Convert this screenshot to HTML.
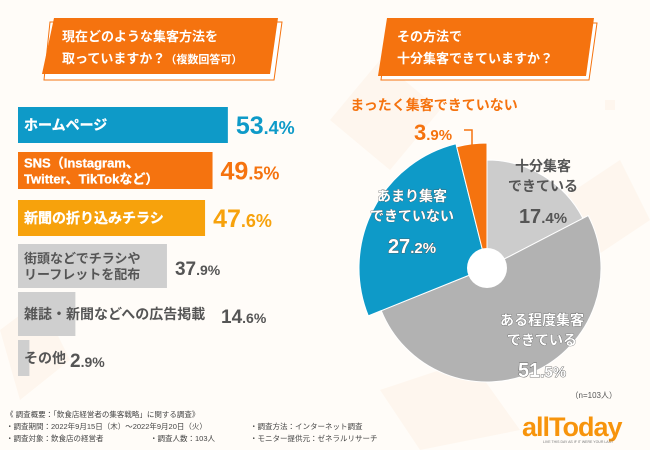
<!DOCTYPE html>
<html><head><meta charset="utf-8"><style>
body{margin:0;width:650px;height:450px;overflow:hidden;background:#fffcf8;font-family:"Liberation Sans","Noto Sans CJK JP",sans-serif}
svg{display:block}
</style></head><body>
<svg width="650" height="450">
<g fill="#fdf0e3" opacity="0.45">
<polygon points="330,120 380,60 440,110 390,170"/><polygon points="560,200 620,160 650,220 590,260"/><polygon points="380,390 470,360 520,430 420,450"/><rect x="605" y="100" width="10" height="10"/><polygon points="0,330 40,300 70,360 20,400"/>
</g>
<g>
<polygon points="50,22 282,22 274,80 44,80" fill="#fff" stroke="#f5730f" stroke-width="1"/>
<polygon points="54,18 278,18 270,74 42,74" fill="#f5730f"/>
<text x="62" y="41" font-size="13" font-weight="bold" fill="#fff">現在どのような集客方法を</text>
<text x="62" y="63" font-size="13" font-weight="bold" fill="#fff">取っていますか？<tspan font-size="11">（複数回答可）</tspan></text>
</g>
<g>
<polygon points="389,23 597,23 589,80 381,80" fill="#fff" stroke="#f5730f" stroke-width="1"/>
<polygon points="387,18 594,18 586,76 378,76" fill="#f5730f"/>
<text x="397" y="41" font-size="13" font-weight="bold" fill="#fff">その方法で</text>
<text x="397" y="63" font-size="13" font-weight="bold" fill="#fff">十分集客できていますか？</text>
</g>
<g id="bars"></g>
<g id="pie"></g>
<text x="617" y="398" font-size="8" fill="#555" text-anchor="end">（n=103人）</text>
<g font-size="7.5" fill="#444">
<text x="6" y="417">《 調査概要：「飲食店経営者の集客戦略」に関する調査》</text>
<text x="6" y="429">・調査期間：2022年9月15日（木）～2022年9月20日（火）</text>
<text x="6" y="441">・調査対象：飲食店の経営者</text>
<text x="150" y="441">・調査人数：103人</text>
<text x="250" y="429">・調査方法：インターネット調査</text>
<text x="250" y="441">・モニター提供元：ゼネラルリサーチ</text>
</g>
<g>
<text x="522" y="436" font-size="27" font-weight="bold" fill="#f7940c" letter-spacing="-1">allToday</text>
<text x="543" y="443" font-size="3.5" fill="#777">LIVE THIS DAY AS IF IT WERE YOUR LAST</text>
</g>
</svg>
<script>
const barLabels=[["ホームページ"],["SNS（Instagram、","Twitter、TikTokなど）"],["新聞の折り込みチラシ"],["街頭などでチラシや","リーフレットを配布"],["雑誌・新聞などへの広告掲載"],["その他"]];
const barValues=[53.4,49.5,47.6,37.9,14.6,2.9];
const barColors=["#0e9ac8","#f5730f","#f7a20c","#cfcfcf","#cfcfcf","#cfcfcf"];
const pieLabels=["十分集客できている","ある程度集客できている","あまり集客できていない","まったく集客できていない"];
const pieValues=[17.4,51.5,27.2,3.9];
const pieColors=["#cccccc","#b2b2b2","#0e9ac8","#f5730f"];
const NS="http://www.w3.org/2000/svg";
function mk(t,a,p){const e=document.createElementNS(NS,t);for(const k in a)e.setAttribute(k,a[k]);p.appendChild(e);return e;}
const xs=v=>v*3.93;
const rowTop=[107,152,200,244,292,340],rowH=[36,37,36,44,44,36];
const bg=document.getElementById('bars');
barValues.forEach((v,i)=>{
 const y=rowTop[i],h=rowH[i],w=xs(v);
 const r=mk('rect',{x:18,y:y,width:w,height:h,fill:barColors[i]},bg);
 
 
 const col=i<3, lines=barLabels[i];
 lines.forEach((l,j)=>{
  const t=mk('text',{x:24,y:y+h/2+5+(lines.length>1?(j-0.5)*16:0),'font-size':lines.length>1?13:14,'font-weight':'bold',fill:col?'#fff':'#555'},bg);
  if(col){t.setAttribute('stroke','#fff');t.setAttribute('stroke-width','0.3');}
  t.textContent=l;
  
  
 });
 const lblEnd=col?18+w:Math.max(18+w,[0,0,0,140,213,62][i]);
 const vt=mk('text',{x:lblEnd+8,y:y+h/2+9,'font-size':col?25:19,'font-weight':'bold',fill:col?barColors[i]:'#555'},bg);
 const s=v.toFixed(1).split('.');
 vt.innerHTML=s[0]+'<tspan font-size="'+(col?18:14)+'">.'+s[1]+'%</tspan>';
 
 
});
const pg=document.getElementById('pie');
const cx=487,cy=268,radii=[108,114,128,125];
let a0=-Math.PI/2;const tot=pieValues.reduce((a,b)=>a+b,0);
pieValues.forEach((v,i)=>{
 const a1=a0+v/tot*2*Math.PI,R=radii[i];
 const p=mk('path',{d:`M${cx},${cy}L${cx+R*Math.cos(a0)},${cy+R*Math.sin(a0)}A${R},${R} 0 ${a1-a0>Math.PI?1:0} 1 ${cx+R*Math.cos(a1)},${cy+R*Math.sin(a1)}Z`,fill:pieColors[i],stroke:'#fff','stroke-width':1},pg);
 
 
 a0=a1;
});
mk('circle',{cx:cx,cy:cy,r:20,fill:'#fff'},pg);
const pl=[{x:543,y:171,c:'#555',l:["十分集客","できている"]},{x:542,y:325,c:'#fff',l:["ある程度集客","できている"]},{x:412,y:201,c:'#fff',l:["あまり集客","できていない"]},{x:434,y:110,c:'#f5730f',l:["まったく集客できていない"]}];
pl.forEach((o,i)=>{
 o.l.forEach((l,j)=>{const t=mk('text',{x:o.x,y:o.y+j*20,'font-size':14,'font-weight':'bold',fill:o.c,'text-anchor':'middle'},pg);
  if(o.c=='#fff'){t.setAttribute('stroke','#555');t.setAttribute('stroke-width','0.6');t.setAttribute('paint-order','stroke');}
  t.textContent=l;
  
  });
 const vy=i==3?o.y+30:o.y+o.l.length*20+12;
 const vt=mk('text',{x:i==3?o.x-1:o.x,y:vy,'font-size':i==3?22:20,'font-weight':'bold',fill:i==2?'#fff':o.c,'text-anchor':'middle'},pg);
 if(i==1||i==2){vt.setAttribute('stroke','#555');vt.setAttribute('stroke-width','0.8');vt.setAttribute('paint-order','stroke');}
 const s=pieValues[i].toFixed(1).split('.');
 vt.innerHTML=s[0]+'<tspan font-size="15">.'+s[1]+'%</tspan>';
 
 
});
mk('path',{d:'M464,130 L472,130 L472,145',fill:'none',stroke:'#f5730f','stroke-width':1.5},pg);
</script>
</body></html>
